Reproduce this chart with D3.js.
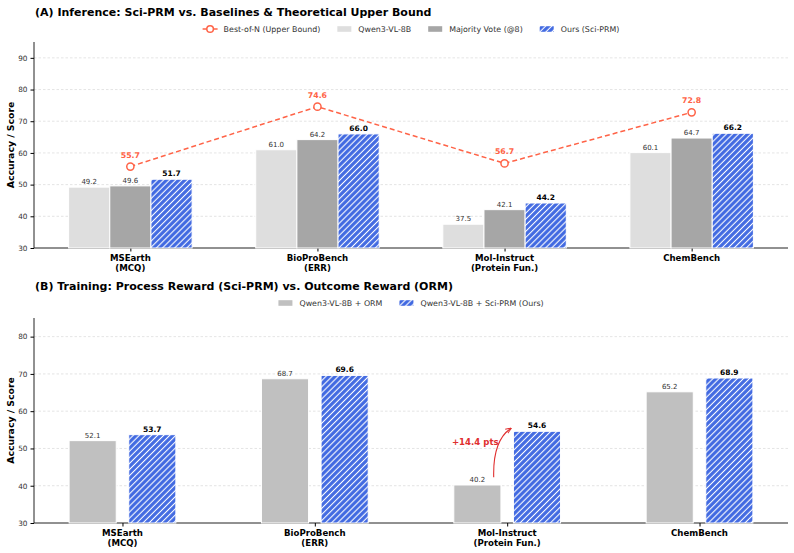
<!DOCTYPE html>
<html>
<head>
<meta charset="utf-8">
<script src="https://cdn.jsdelivr.net/npm/d3@7"></script>
<style>
  body { margin: 0; background: #fff; }
</style>
</head>
<body>
<div class="chart"></div>
<script>
// ---- data ----
var categories = [["MSEarth", "(MCQ)"], ["BioProBench", "(ERR)"], ["Mol-Instruct", "(Protein Fun.)"], ["ChemBench"]];

// panel A: inference
var qwenBase = [49.2, 61.0, 37.5, 60.1];
var majorityVote = [49.6, 64.2, 42.1, 64.7];
var oursPrm = [51.7, 66.0, 44.2, 66.2];
var bestOfN = [55.7, 74.6, 56.7, 72.8];
var ticksA = [30, 40, 50, 60, 70, 80, 90];

// panel B: training
var ormScores = [52.1, 68.7, 40.2, 65.2];
var prmScores = [53.7, 69.6, 54.6, 68.9];
var ticksB = [30, 40, 50, 60, 70, 80];
var gainNote = {label: "+14.4 pts", cat: 2, from: 42.3, to: 55.4, textAt: 51.6};

var width = 794, height = 553;
var blue = "#4169e1", tomato = "#ff6347", red = "#e02f2f";
var FONT = "DejaVu Sans";

var svg = d3.select(".chart").append("svg")
    .attr("width", width)
    .attr("height", height)
    .attr("font-family", FONT);

var defs = svg.append("defs");
var pat = defs.append("pattern")
    .attr("id", "hatch")
    .attr("patternUnits", "userSpaceOnUse")
    .attr("width", 4.3)
    .attr("height", 4.3)
    .attr("patternTransform", "rotate(45)");
pat.append("rect").attr("width", 4.3).attr("height", 4.3).attr("fill", blue);
pat.append("line")
    .attr("x1", 2.15).attr("y1", -1).attr("x2", 2.15).attr("y2", 5.3)
    .attr("stroke", "#fff").attr("stroke-width", 1.1);

defs.append("marker")
    .attr("id", "arrowhead")
    .attr("viewBox", "0 0 10 10")
    .attr("refX", 9).attr("refY", 5)
    .attr("markerWidth", 6).attr("markerHeight", 6)
    .attr("markerUnits", "userSpaceOnUse")
    .attr("orient", "auto")
    .append("path")
    .attr("d", "M0,1 L10,5 L0,9")
    .attr("fill", "none")
    .attr("stroke", red)
    .attr("stroke-width", 1.6);

// shared panel frame: grid, axes, labels
function panel(opts) {
    var x = d3.scaleLinear().domain(opts.xDomain).range([34, 788]);
    var y = d3.scaleLinear().domain(opts.yDomain).range([opts.bottom, opts.top]);
    var g = svg.append("g");

    g.append("text")
        .attr("x", 35)
        .attr("y", opts.titleY)
        .attr("font-size", 11)
        .attr("font-weight", "bold")
        .attr("fill", "#000")
        .text(opts.title);

    g.selectAll("line.grid")
        .data(opts.ticks.slice(1))
        .enter().append("line")
        .attr("class", "grid")
        .attr("x1", 34).attr("x2", 788)
        .attr("y1", function(d) { return y(d); })
        .attr("y2", function(d) { return y(d); })
        .attr("stroke", "#d9d9d9")
        .attr("stroke-width", 0.7)
        .attr("stroke-dasharray", "2.5,2");

    var yAxis = g.append("g")
        .attr("transform", "translate(34,0)")
        .call(d3.axisLeft(y).tickValues(opts.ticks).tickSize(3.5).tickPadding(3).tickFormat(d3.format("d")));
    yAxis.attr("font-family", FONT);
    yAxis.select(".domain").attr("stroke", "#222").attr("stroke-width", 1).attr("d", "M0," + opts.top + "V" + opts.bottom);
    yAxis.selectAll("text").attr("font-size", 7.3).attr("fill", "#333");

    var xAxis = g.append("g")
        .attr("transform", "translate(0," + opts.bottom + ")")
        .call(d3.axisBottom(x).tickValues([0, 1, 2, 3]).tickSize(3.5).tickFormat(""));
    xAxis.select(".domain").attr("stroke", "#222").attr("stroke-width", 1).attr("d", "M34,0H788");

    var labels = g.selectAll("text.cat")
        .data(categories)
        .enter().append("text")
        .attr("class", "cat")
        .attr("x", function(d, i) { return x(i); })
        .attr("y", opts.bottom + 13)
        .attr("text-anchor", "middle")
        .attr("font-size", 8.6)
        .attr("font-weight", "bold");
    labels.selectAll("tspan")
        .data(function(d) { return d; })
        .enter().append("tspan")
        .attr("x", function() { return d3.select(this.parentNode).attr("x"); })
        .attr("dy", function(d, i) { return i ? 10 : 0; })
        .text(function(d) { return d; });

    g.append("text")
        .attr("transform", "translate(14," + ((opts.top + opts.bottom) / 2) + ") rotate(-90)")
        .attr("text-anchor", "middle")
        .attr("font-size", 9.3)
        .attr("font-weight", "bold")
        .text("Accuracy / Score");

    return {g: g, x: x, y: y};
}

function bars(p, values, offset, w, fill, labelBold) {
    p.g.append("g").selectAll("rect")
        .data(values)
        .enter().append("rect")
        .attr("x", function(d, i) { return p.x(i + offset - w / 2); })
        .attr("width", function() { return p.x(w) - p.x(0); })
        .attr("y", function(d) { return p.y(d); })
        .attr("height", function(d) { return p.y.range()[0] - p.y(d); })
        .attr("fill", fill)
        .attr("stroke", "#fff")
        .attr("stroke-width", 1);

    p.g.append("g").selectAll("text")
        .data(values)
        .enter().append("text")
        .attr("x", function(d, i) { return p.x(i + offset); })
        .attr("y", function(d) { return p.y(d) - 3; })
        .attr("text-anchor", "middle")
        .attr("font-size", labelBold ? 7.5 : 7)
        .attr("font-weight", labelBold ? "bold" : "normal")
        .attr("fill", labelBold ? "#000" : "#333")
        .text(function(d) { return d.toFixed(1); });
}

function legend(y, items) {
    var lg = svg.append("g");
    var cx = 0;
    items.forEach(function(it) {
        var item = lg.append("g").attr("transform", "translate(" + cx + ",0)");
        if (it.type === "line") {
            item.append("line").attr("x1", 0).attr("x2", 15).attr("y1", 0).attr("y2", 0)
                .attr("stroke", tomato).attr("stroke-width", 1.5);
            item.append("circle").attr("cx", 7.5).attr("cy", 0).attr("r", 3.3)
                .attr("fill", "#fff").attr("stroke", tomato).attr("stroke-width", 1.5);
        } else {
            item.append("rect").attr("x", 0).attr("y", -2.8).attr("width", 14).attr("height", 5.6)
                .attr("fill", it.fill);
        }
        var t = item.append("text").attr("x", 21).attr("y", 2.8)
            .attr("font-size", 7.9).attr("fill", "#333").text(it.label);
        cx += 21 + t.node().getComputedTextLength() + 17;
    });
    var bw = cx - 17;
    lg.attr("transform", "translate(" + (411 - bw / 2) + "," + y + ")");
}

// ---- Panel A ----
var pA = panel({
    title: "(A) Inference: Sci-PRM vs. Baselines & Theoretical Upper Bound",
    titleY: 16, top: 42, bottom: 248,
    xDomain: [-0.515, 3.515], yDomain: [30, 95], ticks: ticksA
});
bars(pA, qwenBase, -0.22, 0.22, "#dedede", false);
bars(pA, majorityVote, 0, 0.22, "#a6a6a6", false);
bars(pA, oursPrm, 0.22, 0.22, "url(#hatch)", true);

var line = d3.line()
    .x(function(d, i) { return pA.x(i); })
    .y(function(d) { return pA.y(d); });
pA.g.append("path")
    .datum(bestOfN)
    .attr("d", line)
    .attr("fill", "none")
    .attr("stroke", tomato)
    .attr("stroke-width", 1.5)
    .attr("stroke-dasharray", "5,3");
pA.g.selectAll("circle.bon")
    .data(bestOfN)
    .enter().append("circle")
    .attr("class", "bon")
    .attr("cx", function(d, i) { return pA.x(i); })
    .attr("cy", function(d) { return pA.y(d); })
    .attr("r", 3.6)
    .attr("fill", "#fff")
    .attr("stroke", tomato)
    .attr("stroke-width", 1.5);
pA.g.selectAll("text.bon")
    .data(bestOfN)
    .enter().append("text")
    .attr("class", "bon")
    .attr("x", function(d, i) { return pA.x(i); })
    .attr("y", function(d) { return pA.y(d) - 9; })
    .attr("text-anchor", "middle")
    .attr("font-size", 7.8)
    .attr("font-weight", "bold")
    .attr("fill", tomato)
    .text(function(d) { return d.toFixed(1); });

legend(29, [
    {type: "line", label: "Best-of-N (Upper Bound)"},
    {label: "Qwen3-VL-8B", fill: "#dedede"},
    {label: "Majority Vote (@8)", fill: "#a6a6a6"},
    {label: "Ours (Sci-PRM)", fill: "url(#hatch)"}
]);

// ---- Panel B ----
var pB = panel({
    title: "(B) Training: Process Reward (Sci-PRM) vs. Outcome Reward (ORM)",
    titleY: 290, top: 318, bottom: 523,
    xDomain: [-0.46, 3.46], yDomain: [30, 85], ticks: ticksB
});
bars(pB, ormScores, -0.155, 0.245, "#c0c0c0", false);
bars(pB, prmScores, 0.155, 0.245, "url(#hatch)", true);

legend(303, [
    {label: "Qwen3-VL-8B + ORM", fill: "#c0c0c0"},
    {label: "Qwen3-VL-8B + Sci-PRM (Ours)", fill: "url(#hatch)"}
]);

// gain annotation
var ax0 = pB.x(gainNote.cat - 0.07), ay0 = pB.y(gainNote.from);
var ax1 = pB.x(gainNote.cat + 0.02), ay1 = pB.y(gainNote.to);
pB.g.append("path")
    .attr("d", "M" + ax0 + "," + ay0 + " Q" + (ax0 - 1) + "," + (ay1 + 12) + " " + ax1 + "," + ay1)
    .attr("fill", "none")
    .attr("stroke", red)
    .attr("stroke-width", 1.1)
    .attr("marker-end", "url(#arrowhead)");
pB.g.append("text")
    .attr("x", ax0 + 5)
    .attr("y", pB.y(gainNote.textAt) + 3)
    .attr("text-anchor", "end")
    .attr("font-size", 8.6)
    .attr("font-weight", "bold")
    .attr("fill", red)
    .text(gainNote.label);
</script>
</body>
</html>
